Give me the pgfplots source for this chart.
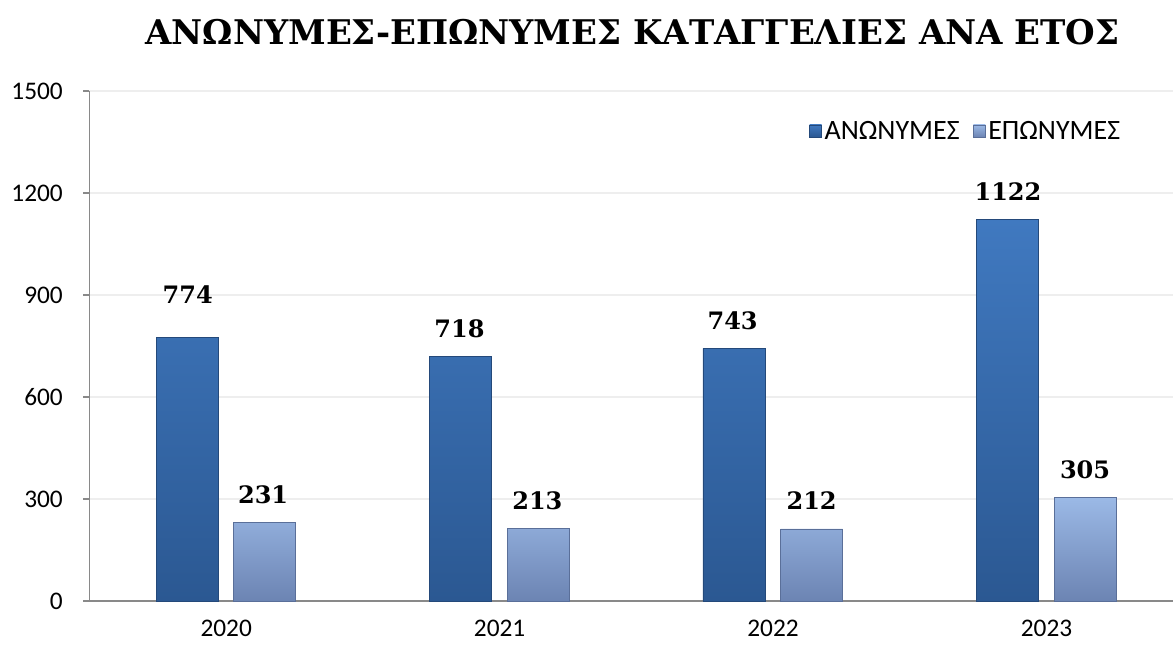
\documentclass[border=0pt]{standalone}
\usepackage{fontspec}
\setmainfont{Carlito}
\newfontfamily\slab{DejaVu Serif}
\usepackage{pgfplots}
\pgfplotsset{compat=1.18}
\definecolor{axgray}{HTML}{898989}
\definecolor{gridc}{HTML}{EEEEEE}
\definecolor{bluetop}{HTML}{4079C0}
\definecolor{bluebot}{HTML}{2B5892}
\definecolor{bluedge}{HTML}{24497A}
\definecolor{lighttop}{HTML}{9BB9E6}
\definecolor{lightbot}{HTML}{6C84B3}
\definecolor{lightedge}{HTML}{5A6F99}
\begin{document}
\begin{tikzpicture}
\useasboundingbox (-67.125pt,-33.75pt) rectangle (812.625pt,450.75pt);
\begin{axis}[
  at={(0pt,0pt)}, anchor=south west,
  scale only axis, width=812.625pt, height=382.5pt,
  xmin=-0.5, xmax=3.4627, ymin=0, ymax=1500,
  axis lines=left, axis line style={-, draw=axgray, line width=1pt},
  xtick={0,1,2,3}, xticklabels={2020,2021,2022,2023},
  ytick={0,300,...,1500},
  major x tick style={draw=none},
  major y tick style={draw=axgray, line width=1pt},
  tick align=outside, major tick length=4.5pt,
  ymajorgrids, grid style={gridc, line width=1.2pt},
  tick label style={font=\fontsize{19}{21}\selectfont, black},
  /pgf/number format/assume math mode=true,
  /pgf/number format/1000 sep={},
  xticklabel style={yshift=-6pt},
  yticklabel style={xshift=-12pt},
  bar width=0.227,
  legend style={draw=none, fill=none, at={(0.664,0.9216)}, anchor=west,
    inner sep=0pt, font=\fontsize{21}{23}\selectfont,
    /tikz/every even column/.append style={column sep=8pt}},
  legend columns=2,
  legend cell align=left,
]
\addplot[ybar, bar shift=-0.143, draw=bluedge, line width=0.6pt,
  top color=bluetop, bottom color=bluebot,
  legend image code/.code={\path[top color=bluetop, bottom color=bluebot, draw=bluedge, line width=0.5pt] (0pt,-4.5pt) rectangle (9pt,4.5pt);}]
  coordinates {(0,774) (1,718) (2,743) (3,1122)};
\addlegendentry{ΑΝΩΝΥΜΕΣ}
\addplot[ybar, bar shift=0.141, draw=lightedge, line width=0.6pt,
  top color=lighttop, bottom color=lightbot,
  legend image code/.code={\path[top color=lighttop, bottom color=lightbot, draw=lightedge, line width=0.5pt] (0pt,-4.5pt) rectangle (9pt,4.5pt);}]
  coordinates {(0,231) (1,213) (2,212) (3,305)};
\addlegendentry{ΕΠΩΝΥΜΕΣ}
\addplot[forget plot, draw=none, mark=none, nodes near coords,
  point meta=explicit symbolic, nodes near coords align={center},
  every node near coord/.append style={font=\slab\bfseries\fontsize{18}{20}\selectfont, text=black}]
  coordinates {(-0.141,900)[774] (0.135,312)[231] (0.853,800)[718] (1.138,294)[213]
               (1.852,824)[743] (2.141,294)[212] (2.859,1203)[1122] (3.141,385)[305]};
\end{axis}
\node[anchor=base, font=\slab\bfseries\fontsize{25.5}{28}\selectfont] at (407.25pt,417pt) {ΑΝΩΝΥΜΕΣ-ΕΠΩΝΥΜΕΣ ΚΑΤΑΓΓΕΛΙΕΣ ΑΝΑ ΕΤΟΣ};
\end{tikzpicture}
\end{document}
